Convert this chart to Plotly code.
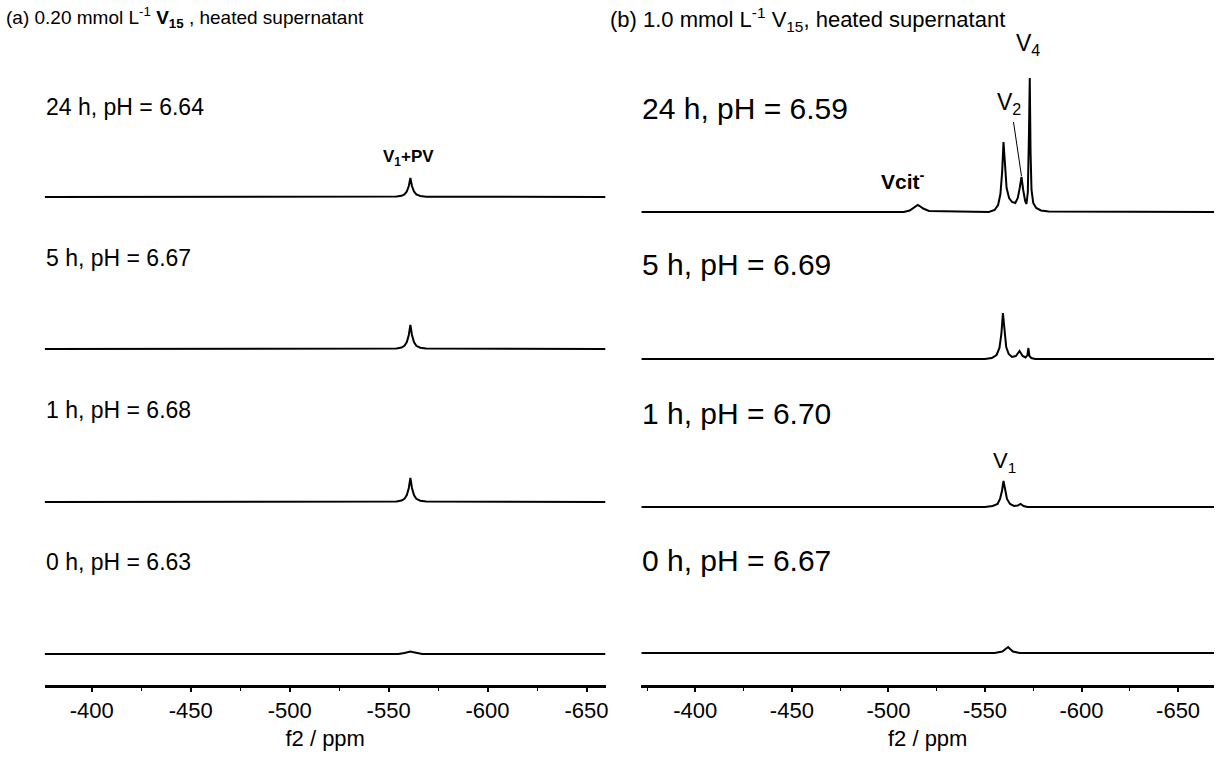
import plotly.graph_objects as go

# ---------------- data (ppm, intensity in arbitrary units) ----------------
# Panel (a): 0.20 mmol/L V15, heated supernatant
a_labels = ["24 h, pH = 6.64", "5 h, pH = 6.67", "1 h, pH = 6.68", "0 h, pH = 6.63"]

a_24h_ppm = [-376, -550, -554, -556.5, -558, -559.2, -560.2, -561, -561.8, -562.8, -564, -566, -569, -659.6]
a_24h_int = [0, 0, 0.4, 1.2, 2.6, 5.5, 11, 19, 11, 5.5, 2.6, 1.0, 0.3, 0]

a_5h_ppm = [-376, -550, -554, -556.5, -558, -559.2, -560.2, -561, -561.8, -562.8, -564, -566, -569, -659.6]
a_5h_int = [0, 0, 0.5, 1.5, 3.2, 7, 14, 24, 14, 7, 3.2, 1.3, 0.4, 0]

a_1h_ppm = [-376, -550, -554, -556.5, -558, -559.2, -560.2, -561, -561.8, -562.8, -564, -566, -569, -659.6]
a_1h_int = [0, 0, 0.5, 1.5, 3.2, 7, 14, 24, 14, 7, 3.2, 1.3, 0.4, 0]

a_0h_ppm = [-376, -555, -558, -560, -561, -562, -564, -567, -659.6]
a_0h_int = [0, 0, 1, 2, 2.5, 2, 1, 0, 0]

# Panel (b): 1.0 mmol/L V15, heated supernatant
b_labels = ["24 h, pH = 6.59", "5 h, pH = 6.69", "1 h, pH = 6.70", "0 h, pH = 6.67"]

b_24h_ppm = [-372, -508, -511, -513, -514.3, -515.2, -516.2, -518, -521, -552, -555, -556.8, -558, -558.9, -559.6, -560.3,
             -561.2, -562.5, -564, -565.7, -567, -568, -568.9, -569.8, -570.8, -571.5, -572.2, -572.8, -573.2, -573.6,
             -574.1, -575, -576.5, -579, -583, -668.6]
b_24h_int = [0, 0, 1.5, 4, 6, 7, 6, 3.5, 1, 0, 2, 7, 18, 40, 70, 44,
             24, 14, 10, 9, 14, 24, 35, 22, 11, 8, 20, 80, 134, 60,
             22, 9, 4, 1.5, 0.5, 0]

b_5h_ppm = [-372, -550, -553.5, -556, -557.5, -558.5, -559.3, -560.1, -561, -562.3, -564, -566, -567.9, -569.5, -571,
            -572, -572.5, -573, -574, -576, -668.6]
b_5h_int = [0, 0, 1, 4, 11, 25, 46, 27, 12, 5, 2, 3, 8, 3, 1.5, 4, 11, 3, 1, 0, 0]

b_1h_ppm = [-372, -550, -554, -556.5, -557.8, -558.8, -559.6, -560.4, -561.4, -563, -565, -567, -568.4, -570, -572, -668.6]
b_1h_int = [0, 0, 1, 3, 8, 16, 26, 16, 8, 3, 1, 1.5, 3, 1, 0, 0]

b_0h_ppm = [-372, -555, -559, -561, -562, -563, -564.5, -568, -668.6]
b_0h_int = [0, 0, 1.5, 4, 6, 4, 1.5, 0, 0]

tick_vals = [-400, -450, -500, -550, -600, -650]
tick_text = ["-400", "-450", "-500", "-550", "-600", "-650"]

# ---------------- layout helpers ----------------
W, H = 1217, 761
FONT = "Liberation Sans, Arial, sans-serif"
AXIS_Y = 685  # pixel row of the x-axis line


def px(x):
    return x / W


def py(y):
    return 1 - y / H


# baseline pixel rows of the stacked spectra (layout, not data)
a_base = [197, 349, 502, 654]
b_base = [212, 359, 507, 653]

fig = go.Figure()

a_sets = [(a_24h_ppm, a_24h_int), (a_5h_ppm, a_5h_int), (a_1h_ppm, a_1h_int), (a_0h_ppm, a_0h_int)]
b_sets = [(b_24h_ppm, b_24h_int), (b_5h_ppm, b_5h_int), (b_1h_ppm, b_1h_int), (b_0h_ppm, b_0h_int)]

for (xs, ys), base, name in zip(a_sets, a_base, a_labels):
    off = AXIS_Y - base
    fig.add_trace(go.Scatter(x=xs, y=[off + v for v in ys], mode="lines", name=name,
                             line=dict(color="black", width=2), xaxis="x", yaxis="y", showlegend=False))
for (xs, ys), base, name in zip(b_sets, b_base, b_labels):
    off = AXIS_Y - base
    fig.add_trace(go.Scatter(x=xs, y=[off + v for v in ys], mode="lines", name=name,
                             line=dict(color="black", width=2), xaxis="x2", yaxis="y2", showlegend=False))

axis_common = dict(showline=True, linecolor="black", linewidth=3, ticks="outside", ticklen=4,
                   tickwidth=1.5, tickcolor="black", showgrid=False, zeroline=False,
                   tickvals=tick_vals, ticktext=tick_text,
                   tickfont=dict(family=FONT, size=22, color="black"),
                   minor=dict(ticks="outside", ticklen=3, tickwidth=1.2, tickcolor="black", dtick=25),
                   title=dict(text="f2 / ppm", font=dict(family=FONT, size=22, color="black"), standoff=9))

yd = [(H - AXIS_Y) / H, 1]
fig.update_layout(
    width=W, height=H, margin=dict(l=0, r=0, t=0, b=0),
    paper_bgcolor="white", plot_bgcolor="white",
    xaxis=dict(domain=[px(45), px(607)], range=[-376.3, -659.6], anchor="y", **axis_common),
    xaxis2=dict(domain=[px(643), px(1217)], range=[-372.1, -668.6], anchor="y2", **axis_common),
    yaxis=dict(domain=yd, range=[0, AXIS_Y], visible=False),
    yaxis2=dict(domain=yd, range=[0, AXIS_Y], visible=False, anchor="x2"),
)

ann = []


def add_text(x, y, text, size, xanchor="left"):
    ann.append(dict(x=px(x), y=py(y), xref="paper", yref="paper", text=text, showarrow=False,
                    xanchor=xanchor, yanchor="middle",
                    font=dict(family=FONT, size=size, color="black")))


add_text(4, 18, "(a) 0.20 mmol L<sup>-1</sup> <b>V</b><b><sub>15</sub></b> , heated supernatant", 19)
add_text(610, 20, "(b) 1.0 mmol L<sup>-1</sup> V<sub>15</sub>, heated supernatant", 22)

for lab, yy in zip(a_labels, [107, 258, 410, 562]):
    add_text(44, yy, lab, 23)
for lab, yy in zip(b_labels, [108, 265, 413, 560]):
    add_text(642, yy, lab, 30)

add_text(410, 158, "<b>V<sub>1</sub>+PV</b>", 17, xanchor="center")
add_text(905, 180, "<b>Vcit<sup>-</sup></b>", 21, xanchor="center")
add_text(1011, 103, "V<sub>2</sub>", 23, xanchor="center")
add_text(1031, 45, "V<sub>4</sub>", 23, xanchor="center")
add_text(1007, 462, "V<sub>1</sub>", 22, xanchor="center")

fig.update_layout(annotations=ann)
fig.add_shape(type="line", xref="paper", yref="paper", x0=px(1016), y0=py(122), x1=px(1024), y1=py(176),
              line=dict(color="black", width=1))

fig.write_html("out.html")
